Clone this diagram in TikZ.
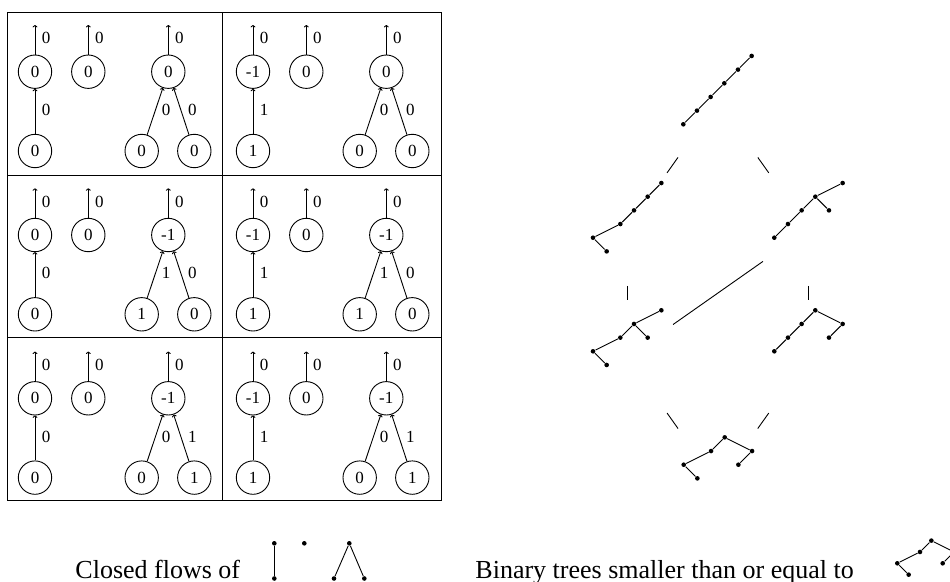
\documentclass[tikz,border=0pt]{standalone}
\usepackage{fontspec}
\setmainfont{Liberation Serif}
\usetikzlibrary{arrows.meta}
\newcommand{\flowcell}[8]{%
 \begin{scope}[shift={(#1,#2)}]
  \node[fnode] (#3lt) at (35,71.7) {#4};
  \node[fnode] (#3lb) at (35,151) {#5};
  \node[fnode] (#3m) at (88.3,71.7) {0};
  \node[fnode] (#3rt) at (168.3,71.7) {#6};
  \node[fnode] (#3ra) at (141.7,151) {#7};
  \node[fnode] (#3rb) at (194.3,151) {#8};
  \coordinate (#3ltu) at (35,25);
  \coordinate (#3mu) at (88.3,25);
  \coordinate (#3rtu) at (168.3,25);
  \draw[flow] (#3lt) -- (#3ltu) node[elab] {0};
  \draw[flow] (#3m) -- (#3mu) node[elab] {0};
  \draw[flow] (#3rt) -- (#3rtu) node[elab] {0};
  \draw[flow] (#3lb) -- (#3lt) node[elab] {#5};
  \draw[flow] (#3ra) -- (#3rt) node[elab] {#7};
  \draw[flow] (#3rb) -- (#3rt) node[elab] {#8};
 \end{scope}}
\begin{document}
\begin{tikzpicture}[x=1pt,y=-1pt,line width=0.9pt,
  fnode/.style={circle,draw,minimum size=33.4pt,inner sep=0pt,font=\fontsize{17}{17}\selectfont},
  flow/.style={-{To[length=2.4pt,width=4.8pt]}},
  elab/.style={midway,xshift=11pt,yshift=1.5pt,inner sep=0pt,font=\fontsize{17}{17}\selectfont},
  dot/.style={circle,fill,minimum size=4.6pt,inner sep=0pt},
  hasse/.style={rectangle,minimum width=90.6pt,minimum height=112pt,inner sep=0pt},
  captxt/.style={anchor=base west,inner sep=0pt,font=\fontsize{26}{26}\selectfont}]
\useasboundingbox (0,0) rectangle (950,581);
\clip (0,0) rectangle (950,581);

% table frame
\draw (7,12.7) rectangle (441.7,500);
\draw (222.7,12.7) -- (222.7,500);
\draw (7,175) -- (441.7,175);
\draw (7,337.3) -- (441.7,337.3);

\flowcell{0}{0}{ca}{0}{0}{0}{0}{0}
\flowcell{218}{0}{cb}{-1}{1}{0}{0}{0}
\flowcell{0}{163.3}{cc}{0}{0}{-1}{1}{0}
\flowcell{218}{163.3}{cd}{-1}{1}{-1}{1}{0}
\flowcell{0}{326.6}{ce}{0}{0}{-1}{0}{1}
\flowcell{218}{326.6}{cf}{-1}{1}{-1}{0}{1}

% Hasse diagram nodes
\node[hasse] (h1) at (717.8,101) {};
\node[hasse] (h2) at (627.3,229.3) {};
\node[hasse] (h3) at (808.7,229.3) {};
\node[hasse] (h4) at (627.3,356.6) {};
\node[hasse] (h5) at (808.7,356.6) {};
\node[hasse] (h6) at (717.8,485) {};
\draw (h1) -- (h2);
\draw (h1) -- (h3);
\draw (h2) -- (h4);
\draw (h3) -- (h5);
\draw (h3) -- (h4);
\draw (h4) -- (h6);
\draw (h5) -- (h6);

% tree 1
\begin{scope}[shift={(683.3,124.3)},x=13.67pt,y=-13.67pt]
 \node[dot] (a0) at (0,0) {};
 \node[dot] (a1) at (1,-1) {};
 \node[dot] (a2) at (2,-2) {};
 \node[dot] (a3) at (3,-3) {};
 \node[dot] (a4) at (4,-4) {};
 \node[dot] (a5) at (5,-5) {};
 \draw (a0) -- (a1) -- (a2) -- (a3) -- (a4) -- (a5);
\end{scope}
% tree 2
\begin{scope}[shift={(593,237.7)},x=13.67pt,y=-13.67pt]
 \node[dot] (b0) at (0,0) {};
 \node[dot] (b1) at (1,1) {};
 \node[dot] (b2) at (2,-1) {};
 \node[dot] (b3) at (3,-2) {};
 \node[dot] (b4) at (4,-3) {};
 \node[dot] (b5) at (5,-4) {};
 \draw (b1) -- (b0) -- (b2) -- (b3) -- (b4) -- (b5);
\end{scope}
% tree 3
\begin{scope}[shift={(774.3,237.7)},x=13.67pt,y=-13.67pt]
 \node[dot] (c0) at (0,0) {};
 \node[dot] (c1) at (1,-1) {};
 \node[dot] (c2) at (2,-2) {};
 \node[dot] (c3) at (3,-3) {};
 \node[dot] (c4) at (4,-2) {};
 \node[dot] (c5) at (5,-4) {};
 \draw (c0) -- (c1) -- (c2) -- (c3) -- (c5);
 \draw (c3) -- (c4);
\end{scope}
% tree 4
\begin{scope}[shift={(593,351.3)},x=13.67pt,y=-13.67pt]
 \node[dot] (d0) at (0,0) {};
 \node[dot] (d1) at (1,1) {};
 \node[dot] (d2) at (2,-1) {};
 \node[dot] (d3) at (3,-2) {};
 \node[dot] (d4) at (4,-1) {};
 \node[dot] (d5) at (5,-3) {};
 \draw (d1) -- (d0) -- (d2) -- (d3) -- (d5);
 \draw (d3) -- (d4);
\end{scope}
% tree 5
\begin{scope}[shift={(774.3,351.3)},x=13.67pt,y=-13.67pt]
 \node[dot] (e0) at (0,0) {};
 \node[dot] (e1) at (1,-1) {};
 \node[dot] (e2) at (2,-2) {};
 \node[dot] (e3) at (3,-3) {};
 \node[dot] (e4) at (4,-1) {};
 \node[dot] (e5) at (5,-2) {};
 \draw (e0) -- (e1) -- (e2) -- (e3) -- (e5) -- (e4);
\end{scope}
% tree 6
\begin{scope}[shift={(683.7,464.7)},x=13.67pt,y=-13.67pt]
 \node[dot] (f0) at (0,0) {};
 \node[dot] (f1) at (1,1) {};
 \node[dot] (f2) at (2,-1) {};
 \node[dot] (f3) at (3,-2) {};
 \node[dot] (f4) at (4,0) {};
 \node[dot] (f5) at (5,-1) {};
 \draw (f1) -- (f0) -- (f2) -- (f3) -- (f5) -- (f4);
\end{scope}

% captions
\node[captxt] (capA) at (75,578.3) {Closed flows of};
\node[dot] (p1) at (274.3,543.3) {};
\node[dot] (p2) at (274.3,578.5) {};
\node[dot] (p3) at (304.3,543.3) {};
\node[dot] (p4) at (349.3,543.3) {};
\node[dot] (p5) at (334,578.5) {};
\node[dot] (p6) at (364.3,578.5) {};
\draw (p1) -- (p2);
\draw (p4) -- (p5);
\draw (p4) -- (p6);

\node[captxt] (capB) at (475,578.3) {Binary trees smaller than or equal to};
\begin{scope}[shift={(897.3,563.3)},x=11.35pt,y=-11.35pt]
 \node[dot] (g0) at (0,0) {};
 \node[dot] (g1) at (1,1) {};
 \node[dot] (g2) at (2,-1) {};
 \node[dot] (g3) at (3,-2) {};
 \node[dot] (g4) at (4,0) {};
 \node[dot] (g5) at (5,-1) {};
 \draw (g1) -- (g0) -- (g2) -- (g3) -- (g5) -- (g4);
\end{scope}
\end{tikzpicture}
\end{document}
